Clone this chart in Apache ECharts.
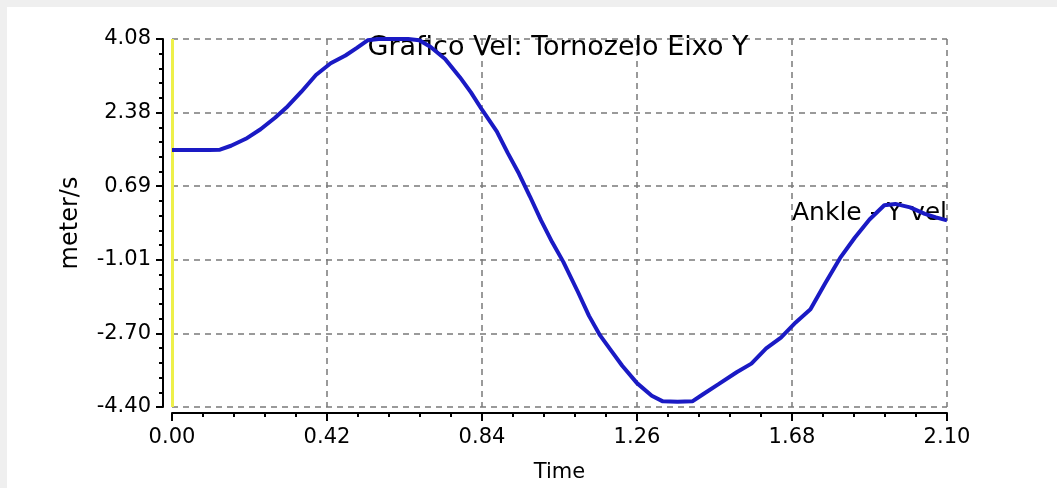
<!DOCTYPE html>
<html>
<head>
<meta charset="utf-8">
<script src="https://cdn.jsdelivr.net/npm/echarts@6/dist/echarts.min.js"></script>
<style>
  html, body { margin: 0; padding: 0; background: #efefef; width: 1057px; height: 488px; overflow: hidden; }
  #chart { position: absolute; left: 7px; top: 7px; width: 1050px; height: 481px; background: #ffffff; }
</style>
</head>
<body>
<div id="chart"></div>
<script>
// ---- data ----
const chartTitle = 'Grafico Vel: Tornozelo Eixo Y';
const seriesName = 'Ankle - Y vel';
const xAxisName = 'Time';
const yAxisName = 'meter/s';
const xTicks = [0.00, 0.42, 0.84, 1.26, 1.68, 2.10];
const yTicks = [-4.40, -2.70, -1.01, 0.69, 2.38, 4.08];
const times = [
  0.00, 0.05, 0.10, 0.13, 0.16, 0.20, 0.24, 0.28, 0.31, 0.35,
  0.39, 0.43, 0.47, 0.50, 0.53, 0.56, 0.60, 0.64, 0.67, 0.70,
  0.74, 0.78, 0.81, 0.84, 0.88, 0.91, 0.94, 0.97, 1.00, 1.03,
  1.06, 1.10, 1.13, 1.16, 1.19, 1.22, 1.26, 1.30, 1.33, 1.37,
  1.41, 1.44, 1.48, 1.53, 1.57, 1.61, 1.65, 1.69, 1.73, 1.77,
  1.81, 1.85, 1.89, 1.93, 1.96, 2.00, 2.04, 2.07, 2.10
];
const velocity = [
  1.52, 1.52, 1.52, 1.53, 1.62, 1.78, 2.00, 2.27, 2.50, 2.86,
  3.25, 3.52, 3.70, 3.87, 4.05, 4.08, 4.08, 4.08, 4.05, 3.90,
  3.62, 3.20, 2.85, 2.45, 1.95, 1.45, 0.98, 0.45, -0.10, -0.60,
  -1.05, -1.75, -2.30, -2.75, -3.10, -3.45, -3.85, -4.14, -4.27, -4.28,
  -4.27, -4.10, -3.88, -3.60, -3.40, -3.05, -2.80, -2.45, -2.15, -1.55,
  -0.97, -0.50, -0.08, 0.25, 0.28, 0.20, 0.05, -0.03, -0.10
];

const FONT = 'DejaVu Sans';
const chart = echarts.init(document.getElementById('chart'), null, { renderer: 'canvas' });
const yMin = yTicks[0], yMax = yTicks[yTicks.length - 1];
const yInterval = (yMax - yMin) / (yTicks.length - 1);
const xMin = xTicks[0], xMax = xTicks[xTicks.length - 1];
const xInterval = (xMax - xMin) / (xTicks.length - 1);

const option = {
  animation: false,
  backgroundColor: '#ffffff',
  grid: { left: 165, right: 110, top: 32, bottom: 74, containLabel: false },
  graphic: [{
    type: 'text', z: 1,
    x: 551, y: 27,
    style: { text: chartTitle, fill: '#000', font: '27px "DejaVu Sans"', textAlign: 'center', textVerticalAlign: 'top' }
  }],
  legend: {
    show: true, z: 1, right: 110, top: 194,
    icon: 'none', itemWidth: 0, itemGap: 0, padding: 0,
    textStyle: { color: '#000', fontFamily: FONT, fontSize: 25, padding: 0 },
    data: [seriesName]
  },
  xAxis: {
    type: 'value', min: xMin, max: xMax, interval: xInterval,
    offset: 6,
    name: xAxisName, nameLocation: 'middle', nameGap: 49,
    nameTextStyle: { color: '#000', fontFamily: FONT, fontSize: 21 },
    axisLine: { show: true, onZero: false, lineStyle: { color: '#000', width: 2 } },
    axisTick: { show: true, inside: false, length: 8, lineStyle: { color: '#000', width: 2 } },
    minorTick: { show: true, splitNumber: 5, length: 4, lineStyle: { color: '#000', width: 2 } },
    axisLabel: { color: '#000', fontFamily: FONT, fontSize: 21, margin: 14,
      formatter: v => v.toFixed(2), showMinLabel: true, showMaxLabel: true },
    splitLine: { show: true, lineStyle: { color: '#7a7a7a', width: 1.5, type: [6, 5] } }
  },
  yAxis: {
    type: 'value', min: yMin, max: yMax, interval: yInterval,
    offset: 9,
    name: yAxisName, nameLocation: 'middle', nameGap: 80,
    nameTextStyle: { color: '#000', fontFamily: FONT, fontSize: 24 },
    axisLine: { show: true, onZero: false, lineStyle: { color: '#000', width: 2 } },
    axisTick: { show: true, inside: false, length: 7, lineStyle: { color: '#000', width: 2 } },
    minorTick: { show: true, splitNumber: 5, length: 4, lineStyle: { color: '#000', width: 2 } },
    axisLabel: { color: '#000', fontFamily: FONT, fontSize: 21, margin: 12,
      formatter: v => v.toFixed(2), showMinLabel: true, showMaxLabel: true },
    splitLine: { show: true, lineStyle: { color: '#7a7a7a', width: 1.5, type: [6, 5] } }
  },
  series: [{
    name: seriesName,
    type: 'line', z: 3,
    data: times.map((t, i) => [t, velocity[i]]),
    showSymbol: false, symbol: 'none',
    lineStyle: { color: '#1a1ac4', width: 4 },
    itemStyle: { color: '#1a1ac4' },
    markLine: {
      silent: true, symbol: 'none', z: 2,
      label: { show: false },
      lineStyle: { color: '#eef04a', width: 3, type: 'solid' },
      data: [{ xAxis: xMin }]
    }
  }]
};
chart.setOption(option);
</script>
</body>
</html>
